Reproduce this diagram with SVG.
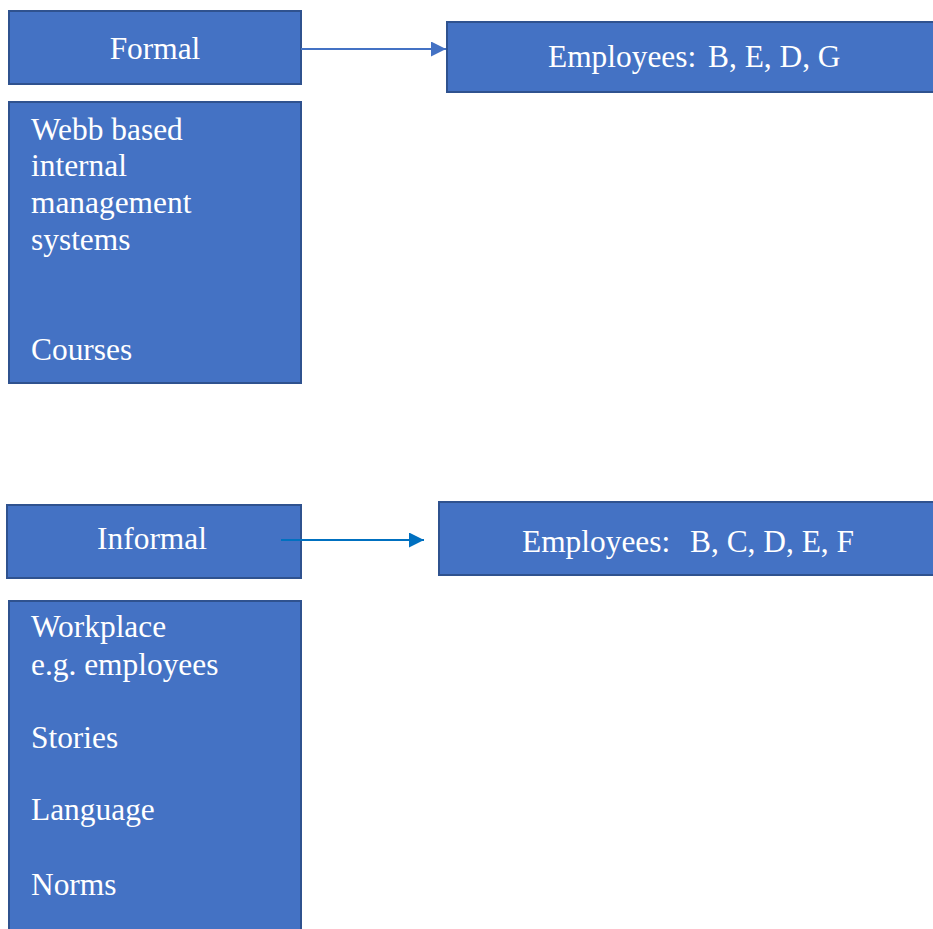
<svg xmlns="http://www.w3.org/2000/svg" width="933" height="929" viewBox="0 0 933 929">
<style>
.box{fill:#4472C4;stroke:#2F528F;stroke-width:2}
.t{font-family:"Liberation Serif","Times New Roman",serif;font-size:31.4px;fill:#ffffff}
.c{text-anchor:middle}
</style>
<defs>
<marker id="a1" viewBox="0 0 10 10" refX="10" refY="5" markerWidth="15" markerHeight="15" markerUnits="userSpaceOnUse" orient="auto"><path d="M0,0 L10,5 L0,10 z" fill="#4472C4"/></marker>
<marker id="a2" viewBox="0 0 10 10" refX="10" refY="5" markerWidth="15" markerHeight="15" markerUnits="userSpaceOnUse" orient="auto"><path d="M0,0 L10,5 L0,10 z" fill="#0070C0"/></marker>
</defs>
<rect width="933" height="929" fill="#ffffff"/>
<g id="formal">
<rect class="box" x="9" y="11" width="292" height="73"/>
<text class="t c" x="155" y="59">Formal</text>
</g>
<g id="formal-list">
<rect class="box" x="9" y="102" width="292" height="281"/>
<text class="t" x="31" y="140">Webb based</text>
<text class="t" x="31" y="176">internal</text>
<text class="t" x="31" y="213">management</text>
<text class="t" x="31" y="250">systems</text>
<text class="t" x="31" y="360">Courses</text>
</g>
<g id="formal-employees">
<rect class="box" x="447" y="22" width="490" height="70"/>
<text class="t" y="67"><tspan x="548">Employees:</tspan><tspan x="708">B, E, D, G</tspan></text>
</g>
<g id="informal">
<rect class="box" x="7" y="505" width="294" height="73"/>
<text class="t c" x="152" y="549">Informal</text>
</g>
<g id="informal-list">
<rect class="box" x="9" y="601" width="292" height="340"/>
<text class="t" x="31" y="637">Workplace</text>
<text class="t" x="31" y="675">e.g. employees</text>
<text class="t" x="31" y="748">Stories</text>
<text class="t" x="31" y="820">Language</text>
<text class="t" x="31" y="895">Norms</text>
</g>
<g id="informal-employees">
<rect class="box" x="439" y="502" width="498" height="73"/>
<text class="t" y="552"><tspan x="522">Employees:</tspan><tspan x="690">B, C, D, E, F</tspan></text>
</g>
<g id="connectors">
<line x1="301" y1="49" x2="446" y2="49" stroke="#4472C4" stroke-width="2" marker-end="url(#a1)"/>
<line x1="281" y1="540" x2="424" y2="540" stroke="#0070C0" stroke-width="2" marker-end="url(#a2)"/>
</g>
</svg>
